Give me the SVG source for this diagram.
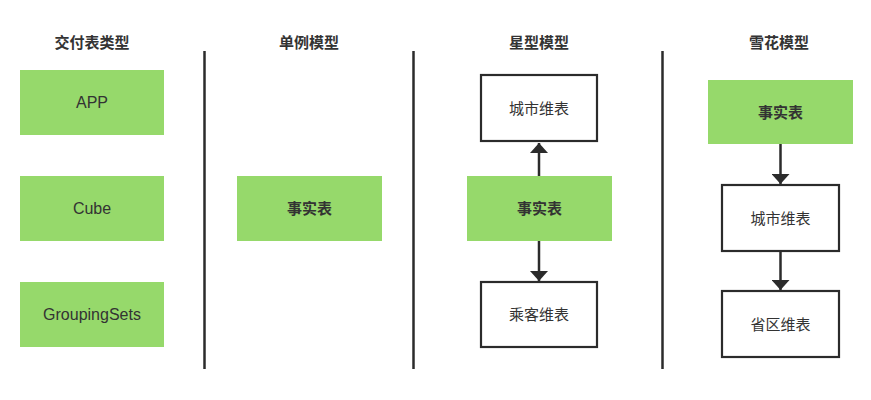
<svg xmlns="http://www.w3.org/2000/svg" width="871" height="400" viewBox="0 0 871 400">
<defs>
<marker id="ah" viewBox="0 0 10 18" refX="10" refY="9" markerWidth="10" markerHeight="18" markerUnits="userSpaceOnUse" orient="auto">
<path d="M0,0 L10,9 L0,18 Z" fill="#2b2b2b"/>
</marker>
<style>
.g{fill:#96D96B;}
.w{fill:#fff;stroke:#2b2b2b;stroke-width:2.2;}
.t{font-family:"Liberation Sans","Noto Sans CJK SC",sans-serif;font-size:15px;fill:#333;text-anchor:middle;dominant-baseline:central;}
.l{font-size:16px;}
.b{font-weight:bold;}
.h{font-family:"Noto Sans CJK SC",sans-serif;font-size:15px;font-weight:bold;fill:#333;text-anchor:middle;dominant-baseline:central;}
.d{stroke:#2b2b2b;stroke-width:2.5;}
.c{stroke:#2b2b2b;stroke-width:2.5;fill:none;}
</style>
</defs>
<rect width="871" height="400" fill="#fff"/>
<g id="titles">
<text class="h" x="92" y="41">交付表类型</text>
<text class="h" x="309" y="41">单例模型</text>
<text class="h" x="539" y="41">星型模型</text>
<text class="h" x="779" y="41">雪花模型</text>
</g>
<g id="dividers">
<line class="d" x1="204.5" y1="51" x2="204.5" y2="369"/>
<line class="d" x1="413.5" y1="51" x2="413.5" y2="369"/>
<line class="d" x1="662.5" y1="51" x2="662.5" y2="369"/>
</g>
<g id="app"><rect class="g" x="20" y="70" width="144" height="65"/><text class="t l" x="92" y="102.5">APP</text></g>
<g id="cube"><rect class="g" x="20" y="176" width="144" height="65"/><text class="t l" x="92" y="208.5">Cube</text></g>
<g id="groupingsets"><rect class="g" x="20" y="282" width="144" height="65"/><text class="t l" x="92" y="314.5">GroupingSets</text></g>
<g id="single-fact"><rect class="g" x="237" y="176" width="145" height="65"/><text class="t b" x="309.5" y="208.5">事实表</text></g>
<g id="star-city"><rect class="w" x="481" y="75" width="116" height="66"/><text class="t" x="539" y="108">城市维表</text></g>
<g id="star-fact"><rect class="g" x="467" y="176" width="145" height="65"/><text class="t b" x="539.5" y="208.5">事实表</text></g>
<g id="star-passenger"><rect class="w" x="481" y="282" width="116" height="65"/><text class="t" x="539" y="314.5">乘客维表</text></g>
<g id="snow-fact"><rect class="g" x="708" y="80" width="145" height="64"/><text class="t b" x="780.5" y="112">事实表</text></g>
<g id="snow-city"><rect class="w" x="722" y="185" width="117" height="66"/><text class="t" x="780.5" y="218">城市维表</text></g>
<g id="snow-province"><rect class="w" x="722" y="291" width="117" height="66"/><text class="t" x="780.5" y="324">省区维表</text></g>
<g id="connectors">
<line class="c" x1="539" y1="176" x2="539" y2="143" marker-end="url(#ah)"/>
<line class="c" x1="539" y1="241" x2="539" y2="281" marker-end="url(#ah)"/>
<line class="c" x1="780.5" y1="144" x2="780.5" y2="184" marker-end="url(#ah)"/>
<line class="c" x1="780.5" y1="251" x2="780.5" y2="290" marker-end="url(#ah)"/>
</g>
</svg>
